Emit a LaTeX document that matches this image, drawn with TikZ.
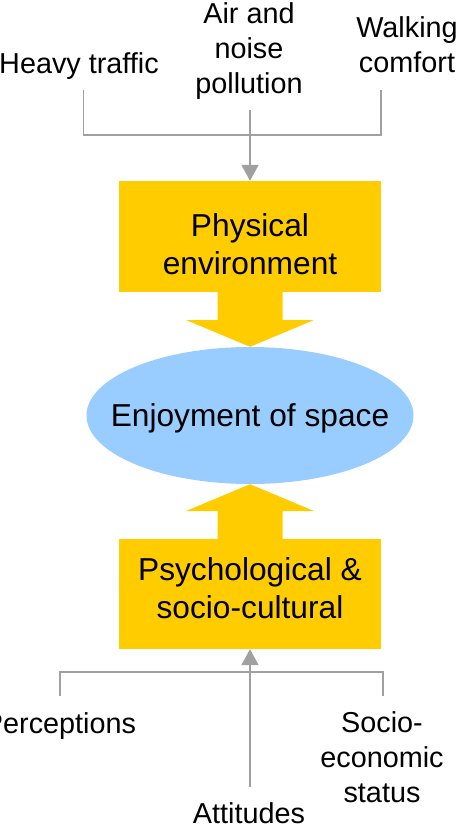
\documentclass[tikz,border=0pt]{standalone}
\usepackage{fontspec}
\setmainfont{Liberation Sans}
\usetikzlibrary{arrows.meta,shapes.geometric}
\definecolor{boxyellow}{HTML}{FFCC00}
\definecolor{ellblue}{HTML}{99CCFF}
\definecolor{linegray}{HTML}{A0A0A0}
\begin{document}
\begin{tikzpicture}[x=1pt,y=-1pt,
  lab/.style={font=\fontsize{28.8}{35}\selectfont, align=center, inner sep=0pt},
  boxlab/.style={font=\fontsize{31.7}{38.5}\selectfont, align=center, inner sep=0pt},
  ybox/.style={fill=boxyellow, draw=none, minimum width=262pt, minimum height=111pt, inner sep=0pt},
  gline/.style={draw=linegray, line width=1.8pt},
  garrow/.style={gline, -{Triangle[length=16pt,width=17pt]}}]
\useasboundingbox (0,0) rectangle (464,829);

% shapes
\node[ybox] (phys) at (250,236.5) {};
\node[ybox, minimum height=110pt] (psych) at (250,594) {};
\node[ellipse, fill=ellblue, minimum width=327pt, minimum height=137pt, inner sep=0pt] (enj) at (250,415.5) {};

% big yellow arrows
\coordinate (dhead) at (250,320);
\coordinate (uhead) at (250,511);
\fill[boxyellow] ([xshift=-32.5pt,yshift=1pt]phys.south) -- ([xshift=-32.5pt]dhead) -- ([xshift=-64pt]dhead)
  -- (enj.north) -- ([xshift=64pt]dhead) -- ([xshift=32.5pt]dhead) -- ([xshift=32.5pt,yshift=1pt]phys.south) -- cycle;
\fill[boxyellow] ([xshift=-32.5pt,yshift=-1pt]psych.north) -- ([xshift=-32.5pt]uhead) -- ([xshift=-64pt]uhead)
  -- (enj.south) -- ([xshift=64pt]uhead) -- ([xshift=32.5pt]uhead) -- ([xshift=32.5pt,yshift=-1pt]psych.north) -- cycle;

% gray connectors top
\coordinate (htl) at (83.5,90);
\coordinate (wcl) at (381,90);
\coordinate (bust) at (250,135);
\coordinate (apl) at (250,110);
\draw[gline] (htl) |- (bust) -| (wcl);
\draw[garrow] (apl) -- (phys.north);

% gray connectors bottom
\coordinate (pcl) at (60,696);
\coordinate (sel) at (383,696);
\coordinate (busb) at (250,672);
\coordinate (atl) at (250,787);
\draw[gline] (pcl) |- (busb) -| (sel);
\draw[garrow] (atl) -- (psych.south);

% labels
\node[lab, anchor=base] (heavy) at (79,74) {Heavy traffic};
\node[lab] (air) at (249,51.1) {Air and\\noise\\pollution};
\node[lab] (walk) at (407,44.6) {Walking\\comfort};
\node[boxlab] (physT) at (250,244) {Physical\\environment};
\node[boxlab, anchor=base] (enjT) at (250,426.7) {Enjoyment of space};
\node[boxlab] (psychT) at (250,588) {Psychological \&\\socio-cultural};
\node[lab, anchor=base] (perc) at (60,733) {Perceptions};
\node[lab] (socio) at (382,757.5) {Socio-\\economic\\status};
\node[lab, anchor=base] (att) at (249,823) {Attitudes};
\end{tikzpicture}
\end{document}
